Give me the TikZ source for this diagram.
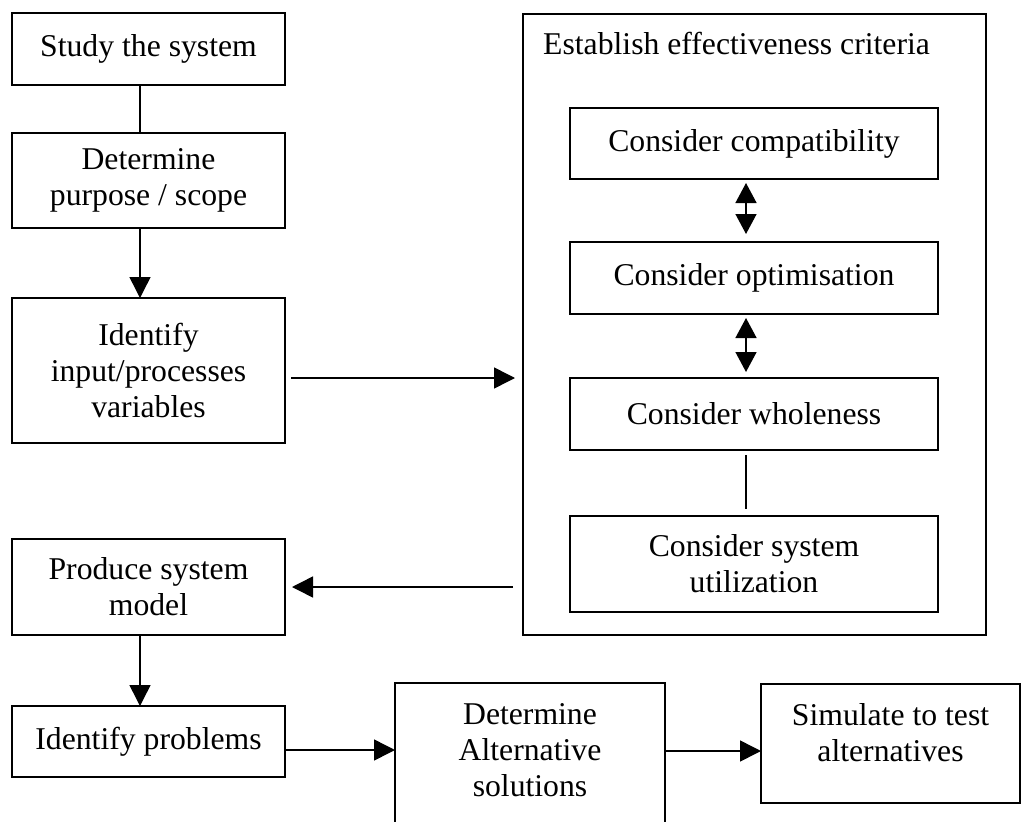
\documentclass[tikz,border=0pt]{standalone}
\usepackage{fontspec}
\setmainfont{Liberation Serif}
\usetikzlibrary{arrows.meta}

\tikzset{
  box/.style={draw, line width=1.6pt, rectangle, inner sep=2pt, outer sep=0pt,
    align=center, font=\fontsize{31.7}{36}\selectfont},
  lbl/.style={align=center, font=\fontsize{31.7}{36}\selectfont, inner sep=0pt},
  link/.style={line width=1.5pt},
  arr/.style={line width=1.5pt, -{Triangle[length=21pt,width=21pt]}},
  darr/.style={line width=1.5pt, {Triangle[length=20pt,width=21pt]}-{Triangle[length=20pt,width=21pt]}}
}

\begin{document}
\begin{tikzpicture}[x=1pt, y=-1pt]
  \useasboundingbox (0,0) rectangle (1024,821);
  \fill[white] (0,0) rectangle (1024,821);
  \clip (0,0) rectangle (1024,821);

  % left column
  \node[box, minimum width=273pt, minimum height=72pt] (study) at (148.5,49) {Study the system};
  \node[box, minimum width=273pt, minimum height=95pt] (purpose) at (148.5,180.5) {Determine\\purpose / scope};
  \node[box, minimum width=273pt, minimum height=145pt] (identify) at (148.5,370.5) {Identify\\input/processes\\variables};
  \node[box, minimum width=273pt, minimum height=96pt] (produce) at (148.5,587) {Produce system\\model};
  \node[box, minimum width=273pt, minimum height=71pt] (problems) at (148.5,741.5) {Identify problems};

  % bottom row
  \node[box, minimum width=270pt, minimum height=157pt,
    label={[lbl, yshift=11.5pt]center:Determine\\Alternative\\solutions}] (alt) at (530,761.5) {};
  \node[box, minimum width=259pt, minimum height=119pt,
    label={[lbl, yshift=10.5pt]center:Simulate to test\\alternatives}] (sim) at (890.5,743.5) {};

  % effectiveness criteria group
  \node[box, minimum width=463pt, minimum height=621pt] (crit) at (754.5,324.5) {};
  \node[lbl, anchor=base west] (crittitle) at (543,55) {Establish effectiveness criteria};
  \node[box, minimum width=368pt, minimum height=71pt] (compat) at (754,143.5) {Consider compatibility};
  \node[box, minimum width=368pt, minimum height=72pt] (optim) at (754,278) {Consider optimisation};
  \node[box, minimum width=368pt, minimum height=72pt] (whole) at (754,414) {Consider wholeness};
  \node[box, minimum width=368pt, minimum height=96pt] (util) at (754,564) {Consider system\\utilization};

  % connectors, left column
  \draw[link] ([xshift=-8.5pt]study.south) -- ([xshift=-8.5pt]purpose.north);
  \draw[arr] ([xshift=-8.5pt]purpose.south) -- ([xshift=-8.5pt]identify.north);
  \draw[arr] ([xshift=-8.5pt]produce.south) -- ([xshift=-8.5pt]problems.north);

  % connectors to and from the criteria group
  \draw[arr, shorten <=6pt, shorten >=8pt] ([yshift=-7.5pt]identify.east) -- ([yshift=-7.5pt]identify.east -| crit.west);
  \draw[arr, shorten <=10pt, shorten >=7pt] (produce.east -| crit.west) -- (produce.east);

  % bottom row connectors
  \draw[arr] ([yshift=-8.5pt]problems.east) -- ([yshift=-8.5pt]problems.east -| alt.west);
  \draw[arr] ([yshift=-7.5pt]sim.west -| alt.east) -- ([yshift=-7.5pt]sim.west);

  % inside the criteria group
  \draw[darr, shorten <=4pt, shorten >=8pt] ([xshift=-8pt]compat.south) -- ([xshift=-8pt]optim.north);
  \draw[darr, shorten <=4pt, shorten >=6pt] ([xshift=-8pt]optim.south) -- ([xshift=-8pt]whole.north);
  \draw[link, shorten <=5pt, shorten >=7pt] ([xshift=-8pt]whole.south) -- ([xshift=-8pt]util.north);
\end{tikzpicture}
\end{document}
